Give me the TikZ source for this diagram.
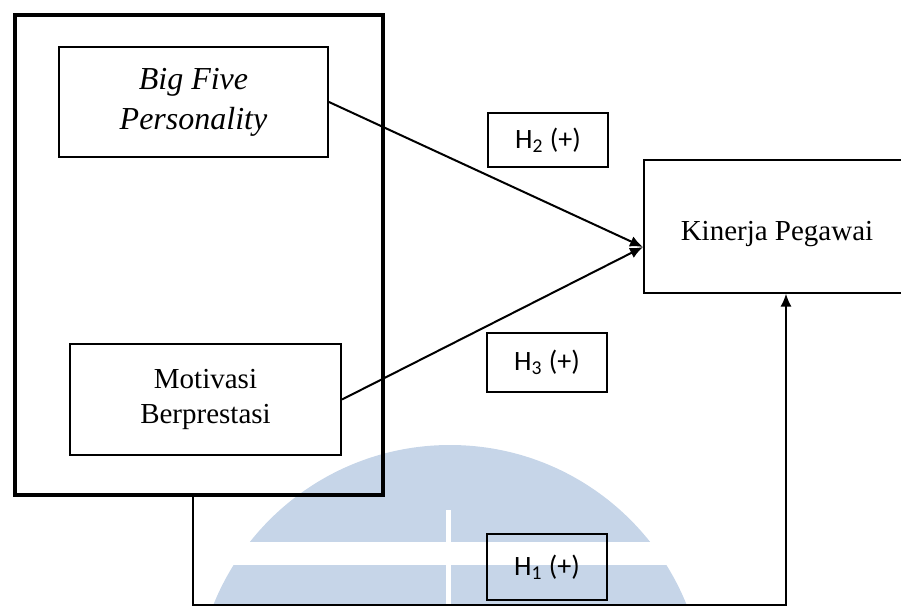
\documentclass[tikz,border=0pt]{standalone}
\usepackage{fontspec}
\setmainfont{Liberation Serif}
\newfontfamily\hfont{Carlito}
\usetikzlibrary{arrows.meta,positioning}
\definecolor{wmBlue}{RGB}{198,213,232}

\begin{document}
\begin{tikzpicture}[
      x=0.5pt, y=-0.5pt,
      line width=1pt,
      mybox/.style={
         rectangle,
         draw=black,
         line width=1pt,
         inner sep=0pt,
         align=center,
         font=\fontsize{14.5}{17.5}\selectfont},
      hbox/.style={
         rectangle,
         draw=black,
         line width=1pt,
         inner sep=0pt,
         minimum width=60pt,
         font=\hfont\fontsize{14}{16}\selectfont},
      myarrow/.style={-{Latex[length=6.5pt,width=5.5pt]}}
      ]
      \useasboundingbox (0,0) rectangle (901,606);

      % watermark in the background
      \begin{scope}
        \clip (0,0) rectangle (901,606);
        \fill[wmBlue] (450,700) circle[radius=255];
        \fill[white] (150,542) rectangle (750,565);
        \fill[white] (446,510) rectangle (451,620);
      \end{scope}

      \node[mybox, line width=2.2pt, minimum width=184pt, minimum height=240pt] (grp) at (199,255) {};
      \node[mybox, minimum width=134.5pt, minimum height=55pt,
            font=\itshape\fontsize{16}{20}\selectfont] (bf) at (193.5,102) {Big Five\\Personality};
      \node[mybox, minimum width=135.5pt, minimum height=55.5pt] (mb) at (205.5,399.5) {Motivasi\\Berprestasi};
      \node[mybox, minimum width=133pt, minimum height=66.5pt, text height=18pt] (kp) at (777,226) {Kinerja Pegawai};

      \node[hbox, minimum height=27pt] (h2) at (548,140) {H\textsubscript{2} (+)};
      \node[hbox, minimum height=29.5pt] (h3) at (547,362.5) {H\textsubscript{3} (+)};
      \node[hbox, minimum height=33pt] (h1) at (547,567) {H\textsubscript{1} (+)};

      \draw[myarrow] (bf.east) -- ([yshift=-10.5pt]kp.west);
      \draw[myarrow] (mb.east) -- ([yshift=-10.5pt]kp.west);
      \draw[myarrow] ([xshift=-3pt]grp.south) -- ++(0,108) -| ([xshift=4.5pt]kp.south);
\end{tikzpicture}
\end{document}
